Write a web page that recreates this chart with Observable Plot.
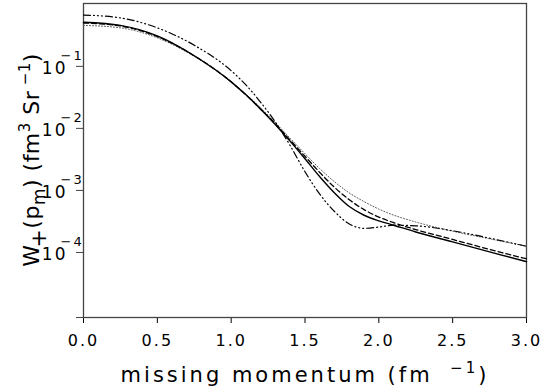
<!DOCTYPE html>
<html><head><meta charset="utf-8">
<script src="https://cdn.jsdelivr.net/npm/d3@7"></script>
<script src="https://cdn.jsdelivr.net/npm/@observablehq/plot@0.6"></script>
<style>
body{margin:0;background:#fff}
#chart svg text{font-family:"DejaVu Sans",sans-serif}
</style>
</head><body><div id="chart"></div>
<script>
// missing momentum grid (fm^-1)
const momentum = [0, 0.25, 0.5, 0.75, 1.0, 1.1, 1.2, 1.3, 1.4, 1.5, 1.6, 1.7, 1.8, 1.9, 2.0, 2.1, 2.25, 2.5, 2.75, 3.0];
// W+(pm) values (fm^3 sr^-1)
const solidValues   = [0.513, 0.457, 0.309, 0.148, 0.0562, 0.0347, 0.0204, 0.01148, 6.17e-3, 3.24e-3, 1.66e-3, 9.1e-4, 5.5e-4, 3.98e-4, 3.24e-4, 2.75e-4, 2.14e-4, 1.48e-4, 1.02e-4, 7.1e-5];
const dashedValues  = [0.50, 0.447, 0.302, 0.148, 0.0562, 0.0347, 0.0204, 0.0118, 6.46e-3, 3.55e-3, 1.95e-3, 1.12e-3, 7.08e-4, 4.9e-4, 3.72e-4, 3.02e-4, 2.34e-4, 1.62e-4, 1.12e-4, 7.9e-5];
const dottedValues  = [0.457, 0.417, 0.288, 0.1445, 0.0562, 0.0355, 0.0214, 0.0123, 6.9e-3, 3.9e-3, 2.24e-3, 1.38e-3, 9.1e-4, 6.6e-4, 5.0e-4, 4.0e-4, 3.1e-4, 2.2e-4, 1.66e-4, 1.26e-4];
const dashDotValues = [0.671, 0.603, 0.417, 0.219, 0.0851, 0.0501, 0.0263, 0.0126, 5.25e-3, 2.0e-3, 8.7e-4, 4.57e-4, 2.88e-4, 2.45e-4, 2.57e-4, 2.75e-4, 2.69e-4, 2.24e-4, 1.7e-4, 1.26e-4];

const xTicks = [0, 0.5, 1.0, 1.5, 2.0, 2.5, 3.0];
const yTicks = [1e-1, 1e-2, 1e-3, 1e-4];
const yTickBase = "10";
const yTickExponents = ["\u22121", "\u22122", "\u22123", "\u22124"];
const xDomain = [0, 3];
const yDomain = [8.95e-6, 1.03];

const toRows = vals => momentum.map((p, i) => ({p, w: vals[i]}));

const chart = Plot.plot({
  width: 545,
  height: 389,
  marginLeft: 83,
  marginRight: 19,
  marginTop: 3,
  marginBottom: 72,
  x: {domain: xDomain},
  y: {type: "log", domain: yDomain},
  style: {fontFamily: "DejaVu Sans, sans-serif", background: "#fff", color: "#000"},
  marks: [
    Plot.axisX({ticks: xTicks, tickFormat: d3.format(".1f"), tickSize: 6, tickPadding: 11, fontSize: 16, label: null, stroke: "#000"}),
    Plot.axisY({ticks: [...yTicks, yDomain[0]], tickFormat: () => "", tickSize: 7, label: null, stroke: "#444"}),
    Plot.text(yTicks, {y: d => d, frameAnchor: "left", text: () => yTickBase, textAnchor: "end", dx: -16, dy: 2, fontSize: 17}),
    Plot.text(yTicks, {y: d => d, frameAnchor: "left", text: (d, i) => yTickExponents[i], textAnchor: "start", dx: -23, dy: -11, fontSize: 13}),
    Plot.frame({stroke: "#444", strokeWidth: 1.3}),
    Plot.line(toRows(dottedValues), {x: "p", y: "w", curve: "monotone-x", stroke: "#555", strokeWidth: 1, strokeDasharray: "1,2"}),
    Plot.line(toRows(dashDotValues), {x: "p", y: "w", curve: "monotone-x", stroke: "#000", strokeWidth: 1.2, strokeDasharray: "7,3,1,3,1,3,1,3"}),
    Plot.line(toRows(dashedValues), {x: "p", y: "w", curve: "monotone-x", stroke: "#000", strokeWidth: 1.3, strokeDasharray: "5,3"}),
    Plot.line(toRows(solidValues), {x: "p", y: "w", curve: "monotone-x", stroke: "#000", strokeWidth: 1.4})
  ]
});
document.getElementById("chart").appendChild(chart);

const svg = d3.select(chart);
svg.selectAll("text").style("letter-spacing", "2px");

// x axis label
const xl = svg.append("text")
  .attr("x", 305).attr("y", 382)
  .attr("text-anchor", "middle")
  .style("font-size", "21px").style("letter-spacing", "3px");
xl.append("tspan").text("missing momentum (fm ");
xl.append("tspan").attr("dy", -9).style("font-size", "15px").text(" \u22121");
xl.append("tspan").attr("dy", 9).text(")");

// y axis label
const yl = svg.append("text")
  .attr("transform", "translate(39,160) rotate(-90)")
  .attr("text-anchor", "middle")
  .style("font-size", "22px").style("letter-spacing", "0.5px");
yl.append("tspan").text("W");
yl.append("tspan").attr("dy", 7).attr("dx", -3).text("+");
yl.append("tspan").attr("dy", -7).text("(p");
yl.append("tspan").attr("dy", 6).style("font-size", "17px").text("m");
yl.append("tspan").attr("dy", -6).text(") (fm");
yl.append("tspan").attr("dy", -9).style("font-size", "15px").text("3");
yl.append("tspan").attr("dy", 9).text(" Sr");
yl.append("tspan").attr("dy", -9).style("font-size", "15px").text(" \u22121");
yl.append("tspan").attr("dy", 9).text(")");
</script>
</body></html>
